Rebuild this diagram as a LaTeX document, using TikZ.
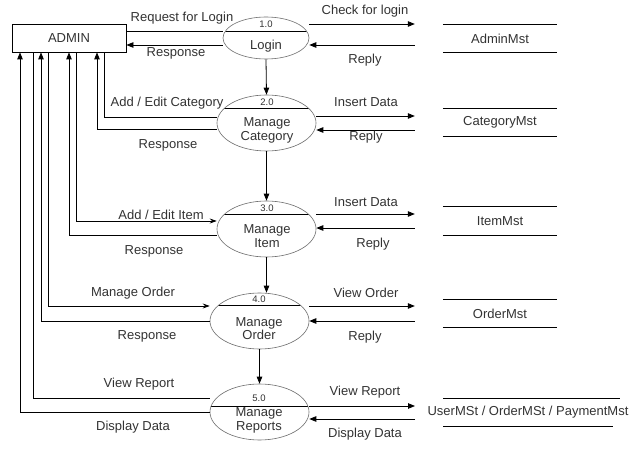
\documentclass[tikz,border=0pt]{standalone}
\usepackage{fontspec}
\setmainfont{Liberation Sans}
\usetikzlibrary{arrows.meta,shapes.geometric}
\definecolor{txt}{HTML}{333333}
\definecolor{edge}{HTML}{6E6E6E}
\begin{document}
\begin{tikzpicture}[x=1pt,y=-1pt,
  font=\fontsize{13}{14}\selectfont, text=txt,
  lbl/.style={inner sep=0pt},
  proc/.style={ellipse, draw=edge, fill=white, inner sep=0pt, line width=0.6pt,
     path picture={\draw[black, line width=0.8pt]
       ([yshift=-#1]path picture bounding box.north west) --
       ([yshift=-#1]path picture bounding box.north east);}},
  num/.style={font=\fontsize{9.5}{10}\selectfont, inner sep=0pt},
  pname/.style={align=center, inner sep=0pt, font=\fontsize{13}{13.5}\selectfont},
  store/.style={minimum width=114pt, minimum height=28pt, inner sep=0pt},
  flow/.style={line width=0.8pt, draw=black},
  arr/.style={flow, -{Triangle[length=7pt,width=5.5pt]}},
  sarr/.style={flow, -{Stealth[length=7pt,width=5pt,inset=2.5pt]}},
]
\useasboundingbox[fill=white] (0,0) rectangle (635,449);

% external entity
\node[draw, line width=0.8pt, minimum width=114pt, minimum height=28pt, inner sep=0pt] (admin) at (69,38) {ADMIN};

% processes
\node[proc=14pt, minimum width=86pt, minimum height=42pt] (p1) at (266,38) {};
\node[num] (p1n) at (266,24) {1.0};
\node[pname] (p1t) at (266,46) {Login};

\node[proc=13pt, minimum width=99pt, minimum height=56pt] (p2) at (266.5,123) {};
\node[num] (p2n) at (267,102) {2.0};
\node[pname] (p2t) at (267,130.5) {Manage\\Category};

\node[proc=13pt, minimum width=99pt, minimum height=56pt] (p3) at (266.5,229) {};
\node[num] (p3n) at (267,208) {3.0};
\node[pname] (p3t) at (267,236) {Manage\\Item};

\node[proc=12pt, minimum width=99pt, minimum height=56pt] (p4) at (259.5,321) {};
\node[num] (p4n) at (259,299) {4.0};
\node[pname] (p4t) at (259,328.5) {Manage\\Order};

\node[proc=22pt, minimum width=99pt, minimum height=56pt] (p5) at (259.5,412) {};
\node[num] (p5n) at (259,398) {5.0};
\node[pname] (p5t) at (259,420.5) {Manage\\Reports};

% data stores
\node[store] (s1) at (500,38.5) {AdminMst};
\node[store] (s2) at (500,122.5) {CategoryMst};
\node[store] (s3) at (500,221) {ItemMst};
\node[store] (s4) at (500,313.5) {OrderMst};
\foreach \s in {s1,s2,s3,s4}
  \draw[flow] (\s.north west) -- (\s.north east) (\s.south west) -- (\s.south east);
\node[lbl] (s5) at (528,412) {UserMSt / OrderMSt / PaymentMst};
\coordinate (s5in) at (443,412);
\draw[flow] (s5in |- 0,398) -- (620,398);
\draw[flow] (s5in |- 0,426) -- (613,426);

% process to process
\draw[arr] (p1.south) -- (p2.north);
\draw[arr] (p2.south) -- (p3.north);
\draw[arr] (p3.south) -- (p3.south |- p4.north);
\draw[arr] (p4.south) -- (p5.north);

% admin <-> processes
\draw[flow] (admin.east |- 0,31) -- (p1.west |- 0,31);
\draw[arr] (p1.west |- 0,45) -- (admin.east |- 0,45);
\draw[flow] (admin.south -| 104,0) |- (p2.west |- 0,117);
\draw[arr] (p2.west |- 0,129) -| (admin.south -| 97,0);
\draw[sarr] (admin.south -| 76,0) |- (p3.west |- 0,221);
\draw[arr] (p3.west |- 0,235) -| (admin.south -| 69,0);
\draw[sarr] (admin.south -| 48,0) |- (p4.west |- 0,306);
\draw[arr] (p4.west |- 0,321) -| (admin.south -| 41,0);
\draw[flow] (admin.south -| 33,0) |- (p5.west |- 0,398);
\draw[arr] (p5.west |- 0,412) -| (admin.south -| 20,0);

% processes <-> stores
\draw[arr, shorten >=28pt] (p1.east |- 0,24) -- (s1.west |- 0,24);
\draw[arr, shorten <=28pt] (s1.west |- 0,45) -- (p1.east |- 0,45);
\draw[arr, shorten >=28pt] (p2.east |- 0,116) -- (s2.west |- 0,116);
\draw[arr, shorten <=28pt] (s2.west |- 0,130) -- (p2.east |- 0,130);
\draw[arr, shorten >=28pt] (p3.east |- 0,214) -- (s3.west |- 0,214);
\draw[arr, shorten <=28pt] (s3.west |- 0,228) -- (p3.east |- 0,228);
\draw[arr, shorten >=28pt] (p4.east |- 0,306) -- (s4.west |- 0,306);
\draw[arr, shorten <=28pt] (s4.west |- 0,321) -- (p4.east |- 0,321);
\draw[arr, shorten >=28pt] (p5.east |- 0,406) -- (s5in |- 0,406);
\draw[arr, shorten <=28pt] (s5in |- 0,419) -- (p5.east |- 0,419);

% labels
\node[lbl] (l1) at (182,18) {Request for Login};
\node[lbl] (l2) at (176,53) {Response};
\node[lbl] (l3) at (365,11) {Check for login};
\node[lbl] (l4) at (365,60) {Reply};
\node[lbl] (l5) at (167,103) {Add / Edit Category};
\node[lbl] (l6) at (168,145) {Response};
\node[lbl] (l7) at (366,102) {Insert Data};
\node[lbl] (l8) at (366,137) {Reply};
\node[lbl] (l9) at (161,215) {Add / Edit Item};
\node[lbl] (l10) at (154,251) {Response};
\node[lbl] (l11) at (366,202) {Insert Data};
\node[lbl] (l12) at (373,244) {Reply};
\node[lbl] (l13) at (133,293) {Manage Order};
\node[lbl] (l14) at (147,336) {Response};
\node[lbl] (l15) at (366,293) {View Order};
\node[lbl] (l16) at (365,337) {Reply};
\node[lbl] (l17) at (139,384) {View Report};
\node[lbl] (l18) at (133,427) {Display Data};
\node[lbl] (l19) at (365,392) {View Report};
\node[lbl] (l20) at (365,434) {Display Data};
\end{tikzpicture}
\end{document}
